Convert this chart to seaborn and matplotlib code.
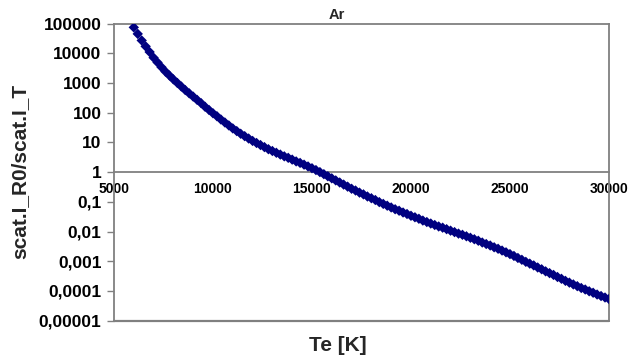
import matplotlib
matplotlib.use("Agg")
import matplotlib.pyplot as plt
import matplotlib.ticker as mticker
import pandas as pd
import seaborn as sns

# Electron temperature grid [K] and scattered-intensity ratio I_R0 / I_T for argon
te_kelvin = list(range(6000, 30001, 200))
ratio = [
    7.41e4, 4.47e4, 2.69e4, 1.70e4, 1.10e4, 7.08e3, 4.90e3, 3.39e3, 2.40e3, 1.78e3,
    1.32e3, 1.00e3, 759, 575, 447, 347, 269, 209, 158, 123,
    95.5, 75.9, 58.9, 46.8, 37.2, 29.5, 24.0, 19.5, 16.2, 13.5,
    11.2, 9.55, 8.13, 6.92, 5.89, 5.13, 4.47, 3.89, 3.39, 3.02,
    2.63, 2.29, 2.04, 1.78, 1.55, 1.35, 1.17, 1.00, 0.851, 0.724,
    0.617, 0.525, 0.447, 0.380, 0.324, 0.275, 0.240, 0.204, 0.178, 0.151,
    0.132, 0.115, 0.0977, 0.0851, 0.0741, 0.0646, 0.0562, 0.0501, 0.0437, 0.0389,
    0.0339, 0.0302, 0.0269, 0.0234, 0.0209, 0.0186, 0.0166, 0.0148, 0.0135, 0.0120,
    0.0107, 0.00955, 0.00851, 0.00776, 0.00692, 0.00617, 0.00550, 0.00490, 0.00427, 0.00380,
    0.00339, 0.00295, 0.00263, 0.00229, 0.00200, 0.00174, 0.00151, 0.00129, 0.00112, 0.000955,
    0.000832, 0.000724, 0.000617, 0.000537, 0.000457, 0.000398, 0.000347, 0.000295, 0.000257, 0.000219,
    0.000191, 0.000166, 0.000145, 0.000126, 0.000112, 9.77e-5, 8.71e-5, 7.59e-5, 6.76e-5, 6.03e-5,
    5.37e-5,
]

x_ticks = [5000, 10000, 15000, 20000, 25000, 30000]
x_tick_labels = ["5000", "10000", "15000", "20000", "25000", "30000"]
y_ticks = [1e5, 1e4, 1e3, 1e2, 1e1, 1, 1e-1, 1e-2, 1e-3, 1e-4, 1e-5]
y_tick_labels = ["100000", "10000", "1000", "100", "10", "1",
                 "0,1", "0,01", "0,001", "0,0001", "0,00001"]

sns.set_style("white")
plt.rcParams["font.family"] = ["Liberation Sans", "DejaVu Sans"]
plt.rcParams["font.weight"] = "bold"

df = pd.DataFrame({"Te": te_kelvin, "ratio": ratio})

fig = plt.figure(figsize=(6.28, 3.6), dpi=100)
ax = fig.add_axes([0.1815, 0.1092, 0.7882, 0.8255])

sns.scatterplot(data=df, x="Te", y="ratio", ax=ax, marker="D", s=28,
                color="#000080", edgecolor="none", linewidth=0, zorder=3)

ax.set_yscale("log")
ax.set_xlim(5000, 30000)
ax.set_ylim(1e-5, 1e5)

ax.set_xticks(x_ticks)
ax.set_xticklabels(x_tick_labels, fontsize=10, fontweight="bold")
ax.set_yticks(y_ticks)
ax.yaxis.set_major_formatter(mticker.FixedFormatter(y_tick_labels))
ax.yaxis.set_minor_locator(mticker.NullLocator())
for lab in ax.get_yticklabels():
    lab.set_fontsize(12.5)
    lab.set_fontweight("bold")

spine_col = "#808080"
for side in ["left", "right", "top", "bottom"]:
    ax.spines[side].set_visible(True)
    ax.spines[side].set_color(spine_col)
    ax.spines[side].set_linewidth(1.3)

# x axis crosses at ratio = 1
ax.spines["bottom"].set_position(("data", 1))
ax.plot([0, 1], [0, 0], transform=ax.transAxes, color=spine_col,
        lw=1.6, clip_on=False, zorder=4)

ax.tick_params(axis="x", direction="in", length=4, width=1, color=spine_col,
               pad=7, labelcolor="black")
ax.tick_params(axis="y", direction="out", length=5, width=1, color=spine_col,
               pad=4, labelcolor="black", left=True)

ax.set_xlabel("Te [K]", fontsize=15, fontweight="bold")
ax.xaxis.set_label_coords(0.4525, -0.05)
ax.set_ylabel("scat.I_R0/scat.I_T", fontsize=15, fontweight="bold")
ax.yaxis.set_label_coords(-0.17, 0.502)

ax.text(0.4505, 1.006, "Ar", transform=ax.transAxes, ha="center", va="bottom",
        fontsize=10.5, fontweight="bold")

fig.savefig("out.png", dpi=100)
